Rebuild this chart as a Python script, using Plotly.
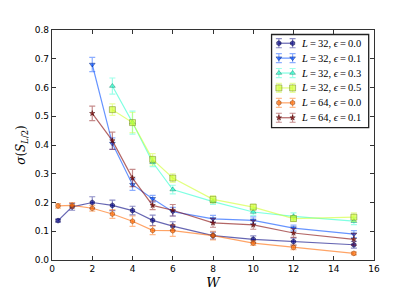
import plotly.graph_objects as go

# ---- data ----
W_small = [0.3, 1, 2, 3, 4, 5, 6, 8, 10, 12, 15]
W_from2 = [2, 3, 4, 5, 6, 8, 10, 12, 15]
W_from3 = [3, 4, 5, 6, 8, 10, 12, 15]

s32_e00 = [0.137, 0.185, 0.200, 0.190, 0.172, 0.138, 0.118, 0.085, 0.072, 0.064, 0.053]
e32_e00 = [0.005, 0.012, 0.020, 0.018, 0.015, 0.018, 0.015, 0.012, 0.012, 0.012, 0.012]

s32_e01 = [0.680, 0.405, 0.262, 0.213, 0.168, 0.143, 0.138, 0.111, 0.090]
e32_e01 = [0.025, 0.020, 0.020, 0.012, 0.015, 0.012, 0.012, 0.010, 0.012]

s32_e03 = [0.605, 0.478, 0.340, 0.245, 0.203, 0.167, 0.152, 0.135]
e32_e03 = [0.028, 0.040, 0.015, 0.015, 0.010, 0.012, 0.012, 0.012]

s32_e05 = [0.523, 0.478, 0.350, 0.285, 0.211, 0.184, 0.144, 0.149]
e32_e05 = [0.020, 0.035, 0.020, 0.015, 0.012, 0.010, 0.010, 0.015]

s64_e00 = [0.188, 0.190, 0.180, 0.160, 0.135, 0.103, 0.102, 0.085, 0.059, 0.044, 0.023]
e64_e00 = [0.008, 0.010, 0.010, 0.015, 0.018, 0.015, 0.020, 0.015, 0.008, 0.008, 0.005]

s64_e01 = [0.510, 0.415, 0.285, 0.190, 0.173, 0.129, 0.122, 0.094, 0.072]
e64_e01 = [0.025, 0.030, 0.030, 0.015, 0.020, 0.015, 0.015, 0.015, 0.020]

T = "\u2009"
labels = [f"<i>L</i>{T}={T}32, <i>ϵ</i>{T}={T}0.0", f"<i>L</i>{T}={T}32, <i>ϵ</i>{T}={T}0.1",
          f"<i>L</i>{T}={T}32, <i>ϵ</i>{T}={T}0.3", f"<i>L</i>{T}={T}32, <i>ϵ</i>{T}={T}0.5",
          f"<i>L</i>{T}={T}64, <i>ϵ</i>{T}={T}0.0", f"<i>L</i>{T}={T}64, <i>ϵ</i>{T}={T}0.1"]

x_ticks = list(range(0, 17, 2))
y_ticks = [0.0, 0.1, 0.2, 0.3, 0.4, 0.5, 0.6, 0.7, 0.8]

# ---- styles ----
base = [(0, 0, 128), (0, 76, 255), (41, 255, 206), (206, 255, 41), (255, 104, 0), (128, 0, 0)]
symbols = ["hexagon", "triangle-down", "triangle-up", "square", "hexagon", "star"]
sizes = [5, 5, 5, 6, 5, 4]

series = [
    (W_small, s32_e00, e32_e00),
    (W_from2, s32_e01, e32_e01),
    (W_from3, s32_e03, e32_e03),
    (W_from3, s32_e05, e32_e05),
    (W_small, s64_e00, e64_e00),
    (W_from2, s64_e01, e64_e01),
]

# legend layout (pixel units inside the plot area, origin bottom-left)
PW, PH = 321.6, 229.5
LEG_BOX = (219.3, 316.3, 132.0, 225.0)   # x0, x1, y0, y1
LEG_TOP = 216.3
LEG_STEP = 14.87
LEG_MX = (226.6, 240.3)
LEG_TX = 248.0

fig = go.Figure()
for i, (x, y, e) in enumerate(series):
    r, g, b = base[i]
    lc = f"rgba({r},{g},{b},0.6)"
    mc = f"rgba({r},{g},{b},0.65)"
    ec = f"rgba({r},{g},{b},0.45)"
    mline = dict(color=f"rgba({r//2},{g//2},{b//2},0.8)", width=0.6)
    fig.add_trace(go.Scatter(
        x=x, y=y, mode="lines+markers", name=labels[i], showlegend=False,
        line=dict(color=lc, width=1.2),
        marker=dict(symbol=symbols[i], size=sizes[i], color=mc, line=mline),
        error_y=dict(type="data", array=e, visible=True, color=ec, thickness=1.2, width=3),
    ))
    # legend entry (drawn on hidden overlay axes)
    yc = LEG_TOP - LEG_STEP * i
    fig.add_trace(go.Scatter(
        x=list(LEG_MX), y=[yc, yc], xaxis="x2", yaxis="y2", mode="lines+markers",
        showlegend=False, hoverinfo="skip",
        line=dict(color=lc, width=1.2),
        marker=dict(symbol=symbols[i], size=sizes[i], color=mc, line=mline),
        error_y=dict(type="data", array=[4.5, 4.5], visible=True, color=ec, thickness=1.2, width=3),
    ))
    fig.add_annotation(x=LEG_TX, y=yc, xref="x2", yref="y2", text=labels[i],
                       showarrow=False, xanchor="left", yanchor="middle", borderpad=0,
                       font=dict(family="Liberation Serif", size=10.5, color="black"))

fig.add_shape(type="rect", xref="x2", yref="y2",
              x0=LEG_BOX[0], x1=LEG_BOX[1], y0=LEG_BOX[2], y1=LEG_BOX[3],
              line=dict(color="#222", width=1.3), fillcolor="white", layer="below")

fig.update_layout(
    width=415, height=297,
    margin=dict(l=44, r=49, t=22, b=45),
    plot_bgcolor="white", paper_bgcolor="white",
    font=dict(family="DejaVu Sans", size=9, color="black"),
    showlegend=False,
    xaxis=dict(range=[0, 16], tickvals=x_ticks, ticktext=[str(v) for v in x_ticks],
               ticks="inside", ticklen=4, tickcolor="#333", mirror="ticks",
               showline=True, linecolor="#333", linewidth=1.3, showgrid=False, zeroline=False,
               title=dict(text="<i>W</i>", font=dict(family="DejaVu Serif", size=13), standoff=4)),
    yaxis=dict(range=[0, 0.8], tickvals=y_ticks, ticktext=[f"{v:.1f}" for v in y_ticks],
               ticks="inside", ticklen=4, tickcolor="#333", mirror="ticks",
               showline=True, linecolor="#333", linewidth=1.3, showgrid=False, zeroline=False,
               title=dict(text="<i>σ</i>(<i>S</i><sub><i>L</i>/2</sub>)",
                          font=dict(family="DejaVu Serif", size=12), standoff=6)),
    xaxis2=dict(overlaying="x", range=[0, PW], visible=False, fixedrange=True),
    yaxis2=dict(overlaying="y", range=[0, PH], visible=False, fixedrange=True),
)

fig.write_html("out.html")
